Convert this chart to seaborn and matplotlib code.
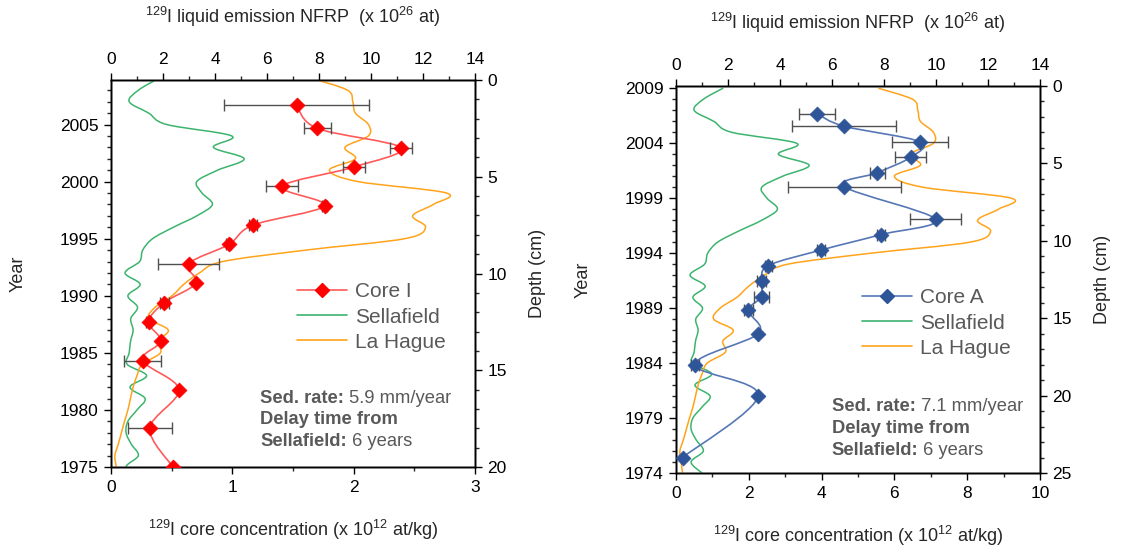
import numpy as np
import matplotlib
matplotlib.use('Agg')
import matplotlib.pyplot as plt
import seaborn as sns
from matplotlib.path import Path
from matplotlib.patches import PathPatch
from matplotlib.lines import Line2D
from matplotlib.ticker import MultipleLocator

# yearly 129I liquid emissions (x 10^26 at), shifted by the 6-year delay
years = list(range(1974, 2010))
sellafield = [1.0, 0.58, 1.05, 0.78, 0.58, 0.65, 1.0, 1.31, 0.73, 1.37,
              0.62, 0.7, 0.75, 0.85, 0.76, 1.02, 0.65, 1.12, 0.54, 1.1,
              1.22, 1.6, 2.4, 3.3, 3.9, 3.5, 3.3, 4.1, 5.12, 3.94,
              4.64, 2.14, 1.45, 0.7, 1.05, 1.8]
la_hague = [0.25, 0.2, 0.15, 0.28, 0.4, 0.52, 0.65, 0.75, 0.85, 1.0,
            1.2, 1.9, 1.8, 2.2, 1.45, 1.7, 2.35, 2.8, 3.4, 4.3,
            7.5, 11.3, 12.1, 11.6, 12.4, 12.9, 9.5, 8.4, 9.4, 9.0,
            9.9, 9.9, 9.4, 9.3, 9.1, 7.8]

# Core I (depth cm, concentration x 10^12 at/kg, error)
core_i_depth = [1.3, 2.5, 3.5, 4.5, 5.5, 6.5, 7.5, 8.5, 9.5, 10.5, 11.5,
                12.5, 13.5, 14.5, 16, 18, 20]
core_i_conc = [1.53, 1.70, 2.39, 2.0, 1.41, 1.76, 1.17, 0.97, 0.64, 0.70,
               0.44, 0.31, 0.41, 0.26, 0.56, 0.32, 0.51]
core_i_err = [0.6, 0.11, 0.09, 0.09, 0.13, 0.02, 0.03, 0.02, 0.25, 0.0,
              0.04, 0.02, 0.0, 0.15, 0.0, 0.18, 0.0]

# Core A
core_a_depth = [1.8, 2.6, 3.6, 4.6, 5.6, 6.5, 8.6, 9.6, 10.6, 11.6, 12.6,
                13.6, 14.5, 16, 18, 20, 24]
core_a_conc = [3.88, 4.62, 6.70, 6.45, 5.53, 4.62, 7.13, 5.63, 3.98, 2.54,
               2.35, 2.35, 1.99, 2.26, 0.52, 2.26, 0.18]
core_a_err = [0.49, 1.42, 0.77, 0.43, 0.2, 1.55, 0.7, 0.1, 0.12, 0.1,
              0.12, 0.2, 0.12, 0.0, 0.12, 0.0, 0.0]

GREEN = '#3cb46e'
ORANGE = '#ffa31a'
GREY = '#595959'


def smooth_path(x, y):
    # excel style smoothed line: catmull-rom segments as cubic beziers
    p = np.column_stack([x, y]).astype(float)
    verts = [p[0]]
    codes = [Path.MOVETO]
    n = len(p)
    for i in range(n - 1):
        p0 = p[i - 1] if i > 0 else p[i]
        p3 = p[i + 2] if i + 2 < n else p[i + 1]
        c1 = p[i] + (p[i + 1] - p0) / 6.0
        c2 = p[i + 1] - (p3 - p[i]) / 6.0
        verts += [c1, c2, p[i + 1]]
        codes += [Path.CURVE4] * 3
    return Path(verts, codes)


def draw_curve(ax, x, y, color, lw, z=2):
    patch = PathPatch(smooth_path(x, y), facecolor='none', edgecolor=color,
                      lw=lw, zorder=z, capstyle='round', joinstyle='round')
    ax.add_patch(patch)


def panel(rect, conc_max, conc_step, depth_max, year0, sed_rate,
          depth, conc, err, name, line_col, mark_col, sed_label, note_xy):
    ax = fig.add_axes(rect)
    ax_t = ax.twiny()
    ax_r = ax.twinx()

    year_top = year0 + depth_max / (sed_rate / 10.0)

    # emissions against year (top axis)
    draw_curve(ax_t, sellafield, years, GREEN, 1.1)
    draw_curve(ax_t, la_hague, years, ORANGE, 1.1)
    ax_t.set_xlim(0, 14)
    ax_t.xaxis.set_major_locator(MultipleLocator(2))
    ax_t.xaxis.set_minor_locator(MultipleLocator(1))

    # core data against depth (right axis)
    draw_curve(ax_r, conc, depth, line_col, 1.2, z=2)
    ax_r.errorbar(conc, depth, xerr=err, fmt='none', ecolor='#505050',
                  elinewidth=1.0, capsize=4, capthick=1.0, zorder=3)
    sns.scatterplot(x=conc, y=depth, ax=ax_r, marker='D', s=58,
                    color=mark_col, edgecolor=mark_col, linewidth=0.5,
                    zorder=4, legend=False)

    ax.set_xlim(0, conc_max)
    ax.xaxis.set_major_locator(MultipleLocator(conc_step))
    ax.xaxis.set_minor_locator(MultipleLocator(conc_step / 2.0))
    ax.set_ylim(year0, year_top)
    ax.set_yticks(list(range(year0, int(year_top) + 1, 5)))
    ax.yaxis.set_minor_locator(MultipleLocator(1))
    ax_r.set_xlim(0, conc_max)
    ax_r.set_ylim(depth_max, 0)
    ax_r.yaxis.set_major_locator(MultipleLocator(5))
    ax_r.yaxis.set_minor_locator(MultipleLocator(1))

    for a in (ax, ax_t, ax_r):
        a.tick_params(which='major', direction='out', length=5, width=1,
                      labelsize=12.5, colors='black', pad=4)
        a.tick_params(which='minor', direction='out', length=3, width=1)
        for s in a.spines.values():
            s.set_visible(True)
            s.set_color('black')
            s.set_linewidth(1.0)

    ax.set_ylabel('Year', fontsize=13)
    ax_r.set_ylabel('Depth (cm)', fontsize=13, rotation=90)
    ax.set_xlabel('$^{129}$I core concentration (x 10$^{12}$ at/kg)', fontsize=13)
    ax_t.set_xlabel('$^{129}$I liquid emission NFRP  (x 10$^{26}$ at)', fontsize=13)
    for lab in (ax.yaxis.label, ax_r.yaxis.label, ax.xaxis.label, ax_t.xaxis.label):
        lab.set_va('center')
        lab.set_ha('center')
    ax.yaxis.set_label_coords(-0.255, 0.5)
    ax_r.yaxis.set_label_coords(1.173, 0.5)
    ax.xaxis.set_label_coords(0.5, -0.163)
    ax_t.xaxis.set_label_coords(0.5, 1.163)

    handles = [
        Line2D([], [], color=line_col, lw=1.2, marker='D', markersize=7,
               markerfacecolor=mark_col, markeredgecolor=mark_col),
        Line2D([], [], color=GREEN, lw=1.2),
        Line2D([], [], color=ORANGE, lw=1.2),
    ]
    leg = ax_r.legend(handles, [name, 'Sellafield', 'La Hague'],
                      loc='upper left', bbox_to_anchor=(0.47, 0.515),
                      frameon=False, fontsize=15, handlelength=2.4,
                      handletextpad=0.4, labelspacing=0.3, borderpad=0.2)
    for t in leg.get_texts():
        t.set_color(GREY)

    # sedimentation note, bold lead words
    rows = [('Sed. rate:', ' %s mm/year' % sed_label),
            ('Delay time from', ''),
            ('Sellafield:', ' 6 years')]
    x0, y0 = note_xy
    for k, (b, n) in enumerate(rows):
        tb = ax_r.text(x0, y0 - k * 0.056, b, transform=ax_r.transAxes,
                       fontsize=13.2, fontweight='bold', color=GREY,
                       va='center', ha='left')
        if n:
            ax_r.annotate(n, xy=(1, 0.5), xycoords=tb, fontsize=13.2,
                          color=GREY, va='center', ha='left')
    return ax


sns.set_style('ticks')
plt.rcParams['font.family'] = ['Liberation Sans', 'DejaVu Sans']
plt.rcParams['mathtext.fontset'] = 'custom'
plt.rcParams['mathtext.rm'] = 'Liberation Sans'
plt.rcParams['mathtext.it'] = 'Liberation Sans:italic'
plt.rcParams['mathtext.bf'] = 'Liberation Sans:bold'

fig = plt.figure(figsize=(11.21, 5.52), dpi=100)
fig.patch.set_facecolor('white')

panel([111 / 1121, 85 / 552, 364 / 1121, 387 / 552], 3, 1, 20, 1975, 5.9,
      core_i_depth, core_i_conc, core_i_err, 'Core I', '#ff5a5a', '#ff0000',
      '5.9', (0.41, 0.178))
panel([676 / 1121, 79 / 552, 364 / 1121, 387 / 552], 10, 2, 25, 1974, 7.1,
      core_a_depth, core_a_conc, core_a_err, 'Core A', '#5677b5', '#2e5597',
      '7.1', (0.428, 0.171))

fig.savefig('out.png', dpi=100, facecolor='white')
